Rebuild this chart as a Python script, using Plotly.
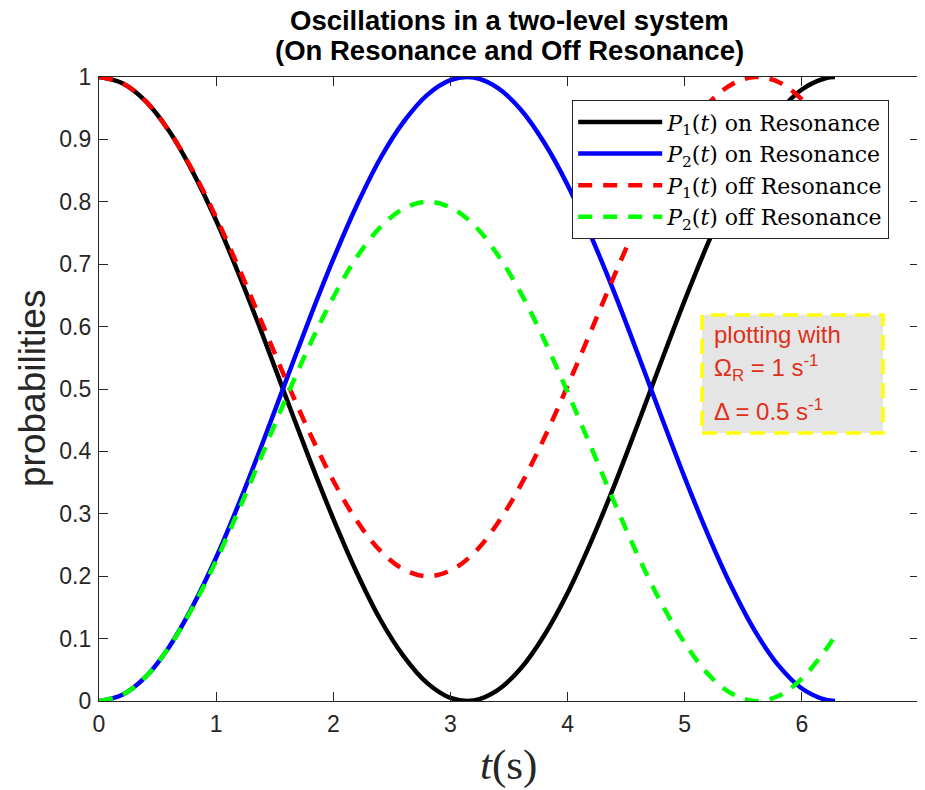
import plotly.graph_objects as go

# time samples (s)
t = [0.0, 0.2, 0.4, 0.6, 0.8, 1.0, 1.2, 1.4, 1.6, 1.8, 2.0, 2.2, 2.4, 2.6, 2.8, 3.0,
     3.2, 3.4, 3.6, 3.8, 4.0, 4.2, 4.4, 4.6, 4.8, 5.0, 5.2, 5.4, 5.6, 5.8, 6.0, 6.2, 6.283]

p1_on = [1.000, 0.990, 0.961, 0.913, 0.848, 0.770, 0.681, 0.585, 0.485, 0.386, 0.292,
         0.206, 0.131, 0.072, 0.029, 0.005, 0.001, 0.017, 0.052, 0.105, 0.173, 0.255,
         0.346, 0.444, 0.544, 0.642, 0.734, 0.817, 0.888, 0.943, 0.980, 0.998, 1.000]

p2_on = [0.000, 0.010, 0.039, 0.087, 0.152, 0.230, 0.319, 0.415, 0.515, 0.614, 0.708,
         0.794, 0.869, 0.928, 0.971, 0.995, 0.999, 0.983, 0.948, 0.895, 0.827, 0.745,
         0.654, 0.556, 0.456, 0.358, 0.266, 0.183, 0.112, 0.057, 0.020, 0.002, 0.000]

p2_off = [0.000, 0.010, 0.039, 0.087, 0.150, 0.225, 0.309, 0.398, 0.487, 0.571, 0.647,
          0.711, 0.759, 0.789, 0.800, 0.791, 0.763, 0.716, 0.654, 0.579, 0.495, 0.407,
          0.318, 0.233, 0.157, 0.093, 0.043, 0.012, 0.000, 0.008, 0.036, 0.081, 0.105]

p1_off = [1.000, 0.990, 0.961, 0.913, 0.850, 0.775, 0.691, 0.602, 0.513, 0.429, 0.353,
          0.289, 0.241, 0.211, 0.200, 0.209, 0.237, 0.284, 0.346, 0.421, 0.505, 0.593,
          0.682, 0.767, 0.843, 0.907, 0.957, 0.988, 1.000, 0.992, 0.964, 0.919, 0.895]

names = ["<i>P</i><sub>1</sub>(<i>t</i>) on Resonance",
         "<i>P</i><sub>2</sub>(<i>t</i>) on Resonance",
         "<i>P</i><sub>1</sub>(<i>t</i>) off Resonance",
         "<i>P</i><sub>2</sub>(<i>t</i>) off Resonance"]

title_lines = ["Oscillations in a two-level system", "(On Resonance and Off Resonance)"]
info_lines = ["plotting with", "Ω<sub>R</sub> = 1 s<sup>-1</sup>", "Δ = 0.5 s<sup>-1</sup>"]

# page offset (body margin) and plot-area geometry in page pixels
OFF = 8
W, H = 925 - OFF, 790 - OFF
L, R, T, B = 99, 919, 77, 701
PW, PH = R - L, B - T


def px(xp):
    return (xp - L) / PW


def py(yp):
    return (B - yp) / PH


fig = go.Figure()
fig.add_trace(go.Scatter(x=t, y=p1_on, mode="lines", name=names[0],
                         line=dict(color="#000000", width=4.5, shape="spline")))
fig.add_trace(go.Scatter(x=t, y=p2_on, mode="lines", name=names[1],
                         line=dict(color="#0000ff", width=4.5, shape="spline")))
fig.add_trace(go.Scatter(x=t, y=p1_off, mode="lines", name=names[2],
                         line=dict(color="#ff0000", width=4.5, shape="spline", dash="14px,11px")))
fig.add_trace(go.Scatter(x=t, y=p2_off, mode="lines", name=names[3],
                         line=dict(color="#00ff00", width=4.5, shape="spline", dash="14px,11px")))

axis_common = dict(showline=True, linecolor="#262626", linewidth=1.2, mirror="ticks",
                   ticks="inside", ticklen=9, tickcolor="#262626", showgrid=False,
                   zeroline=False, automargin=False,
                   tickfont=dict(family="Liberation Sans, Arial", size=23, color="#262626"))

fig.update_xaxes(range=[0, 7], dtick=1, tick0=0, ticklabelstandoff=2, **axis_common)
fig.update_yaxes(range=[0, 1], dtick=0.1, tick0=0, ticklabelstandoff=2, **axis_common)

# axis titles
fig.add_annotation(xref="paper", yref="paper", x=px(508), y=py(765), xanchor="center", yanchor="middle",
                   showarrow=False, text="<i>t</i>(s)",
                   font=dict(family="Liberation Serif, serif", size=43, color="#262626"))
fig.add_annotation(xref="paper", yref="paper", x=px(32), y=py(389), xanchor="center", yanchor="middle",
                   showarrow=False, text="probabilities", textangle=-90,
                   font=dict(family="Liberation Sans, Arial", size=37, color="#262626"))

# title (two lines)
for txt, yc in zip(title_lines, [20, 51]):
    fig.add_annotation(xref="paper", yref="paper", x=px(509), y=py(yc), xanchor="center", yanchor="middle",
                       showarrow=False, text="<b>" + txt + "</b>",
                       font=dict(family="Liberation Sans, Arial", size=27.5, color="#000000"))

# info box
fig.add_shape(type="rect", xref="paper", yref="paper",
              x0=px(702), x1=px(883), y0=py(433), y1=py(315),
              fillcolor="#e5e5e5", line=dict(color="#ffff00", width=3.5, dash="15px,9px"), layer="above")
for txt, yc in zip(info_lines, [334, 368, 410]):
    fig.add_annotation(xref="paper", yref="paper", x=px(712), y=py(yc),
                       xanchor="left", yanchor="middle", align="left", showarrow=False,
                       text=txt, font=dict(family="Liberation Sans, Arial", size=24, color="#e0301a"))

fig.update_layout(
    width=W, height=H,
    margin=dict(l=L - OFF, r=W - (R - OFF), t=T - OFF, b=H - (B - OFF), autoexpand=False),
    paper_bgcolor="white", plot_bgcolor="white",
    legend=dict(x=px(572), y=py(100), xanchor="left", yanchor="top",
                bgcolor="white", bordercolor="#262626", borderwidth=1.2,
                font=dict(family="DejaVu Serif, serif", size=22, color="#000000"),
                itemwidth=84, tracegroupgap=0),
    showlegend=True,
)

fig.write_html("out.html")
